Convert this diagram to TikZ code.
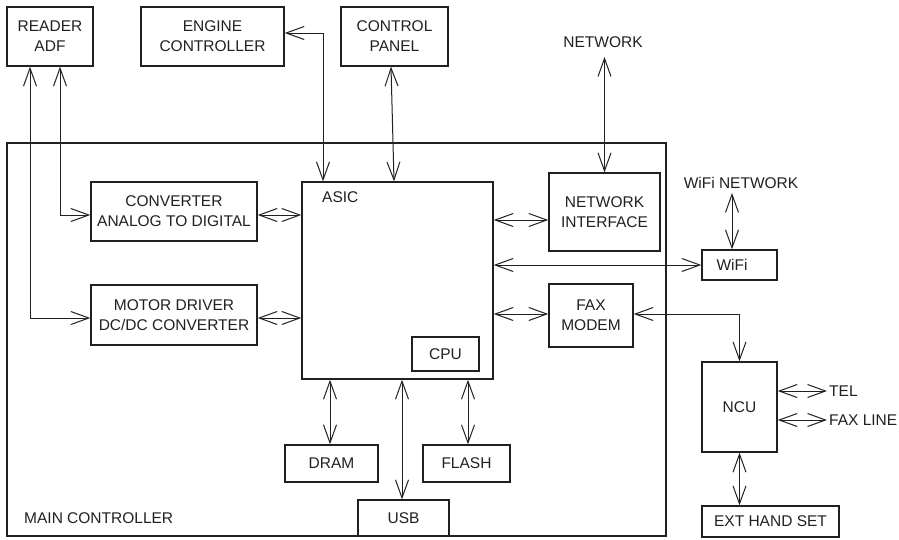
\documentclass[tikz,border=0pt]{standalone}
\usepackage{fontspec}
\setmainfont{Liberation Sans}
\usetikzlibrary{arrows.meta}
\definecolor{ink}{HTML}{231F20}
\begin{document}
\begin{tikzpicture}[x=1pt,y=-1pt,
  every node/.style={font=\fontsize{15.5}{20}\selectfont, text=ink},
  blk/.style={draw=ink, line width=1.4pt, inner sep=0pt, align=center},
  lbl/.style={inner sep=0pt, align=center},
  conn/.style={draw=ink, line width=1pt,
    {Straight Barb[length=18pt,width=13pt]}-{Straight Barb[length=18pt,width=13pt]}}]
\useasboundingbox (0,0) rectangle (899,539);
% main controller frame
\node[blk, minimum width=659pt, minimum height=393pt] (main) at (336.5,339.5) {};
\node[lbl, anchor=west] (maintxt) at (24,518) {MAIN CONTROLLER};
% top boxes
\node[blk, minimum width=86pt, minimum height=59pt] (reader) at (50,36.5) {READER\\ADF};
\node[blk, minimum width=143pt, minimum height=59pt] (engine) at (212.5,36.5) {ENGINE\\CONTROLLER};
\node[blk, minimum width=107pt, minimum height=59pt] (panel) at (394.5,36.5) {CONTROL\\PANEL};
% inner boxes
\node[blk, minimum width=166pt, minimum height=59pt] (conv) at (174,211.5) {CONVERTER\\ANALOG TO DIGITAL};
\node[blk, minimum width=166pt, minimum height=60pt] (motor) at (174,315) {MOTOR DRIVER\\DC/DC CONVERTER};
\node[blk, minimum width=191pt, minimum height=197pt] (asic) at (397.5,280.5) {};
\node[lbl, anchor=west] (asictxt) at (322,197) {ASIC};
\node[blk, minimum width=67pt, minimum height=34pt] (cpu) at (445.5,354) {CPU};
\node[blk, minimum width=93pt, minimum height=37pt] (dram) at (331.5,463.5) {DRAM};
\node[blk, minimum width=87pt, minimum height=37pt] (flash) at (466.5,463.5) {FLASH};
\node[blk, minimum width=91pt, minimum height=36pt] (usb) at (403.5,518) {USB};
\node[blk, minimum width=111pt, minimum height=78pt] (ni) at (604.5,212) {NETWORK\\INTERFACE};
\node[blk, minimum width=84pt, minimum height=63pt] (fax) at (591,315.5) {FAX\\MODEM};
% right side
\node[lbl] (nettxt) at (603,42) {NETWORK};
\coordinate (netend) at (604.5,57);
\node[lbl] (wifinet) at (741,183) {WiFi NETWORK};
\coordinate (wnend) at (732,193);
\node[blk, minimum width=75pt, minimum height=30pt] (wifi) at (739.5,265) {};
\node[lbl] (wifitxt) at (732,265) {WiFi};
\node[blk, minimum width=75pt, minimum height=90pt] (ncu) at (739.5,407) {NCU};
\node[blk, minimum width=137pt, minimum height=31pt] (ext) at (770.5,521.5) {EXT HAND SET};
\node[lbl, anchor=west, inner sep=2pt] (tel) at (827,391) {TEL};
\node[lbl, anchor=west, inner sep=2pt] (faxline) at (827,420) {FAX LINE};
% connectors
\draw[conn] ([xshift=-20pt]reader.south) |- ([yshift=-3pt]motor.west);
\draw[conn] ([xshift=10pt]reader.south) |- ([yshift=-3.5pt]conv.west);
\draw[conn] ([yshift=3.5pt]engine.east) -| ([xshift=-74.5pt]asic.north);
\draw[conn] ([xshift=-3.5pt]panel.south) -- ([xshift=-3.5pt]asic.north);
\draw[conn] ([yshift=-3.5pt]conv.east) -- ([yshift=-3.5pt]conv.east -| asic.west);
\draw[conn] ([yshift=-3pt]motor.east) -- ([yshift=-3pt]motor.east -| asic.west);
\draw[conn] ([yshift=-8pt]ni.west -| asic.east) -- ([yshift=-8pt]ni.west);
\draw[conn] (wifi.west -| asic.east) -- (wifi.west);
\draw[conn] ([yshift=1.5pt]fax.west -| asic.east) -- ([yshift=1.5pt]fax.west);
\draw[conn] ([yshift=1.5pt]fax.east) -| (ncu.north);
\draw[conn] (netend) -- (netend |- ni.north);
\draw[conn] (wnend) -- (wnend |- wifi.north);
\draw[conn] (ncu.south) -- (ncu.south |- ext.north);
\draw[conn] ([yshift=16pt]ncu.east) -- (tel.west);
\draw[conn] ([yshift=-13pt]ncu.east) -- (faxline.west);
\draw[conn] ([xshift=-1.5pt]dram.north) -- ([xshift=-1.5pt]dram.north |- asic.south);
\draw[conn] ([xshift=-1.5pt]usb.north) -- ([xshift=-1.5pt]usb.north |- asic.south);
\draw[conn] ([xshift=1.5pt]flash.north) -- ([xshift=1.5pt]flash.north |- asic.south);
\end{tikzpicture}
\end{document}
